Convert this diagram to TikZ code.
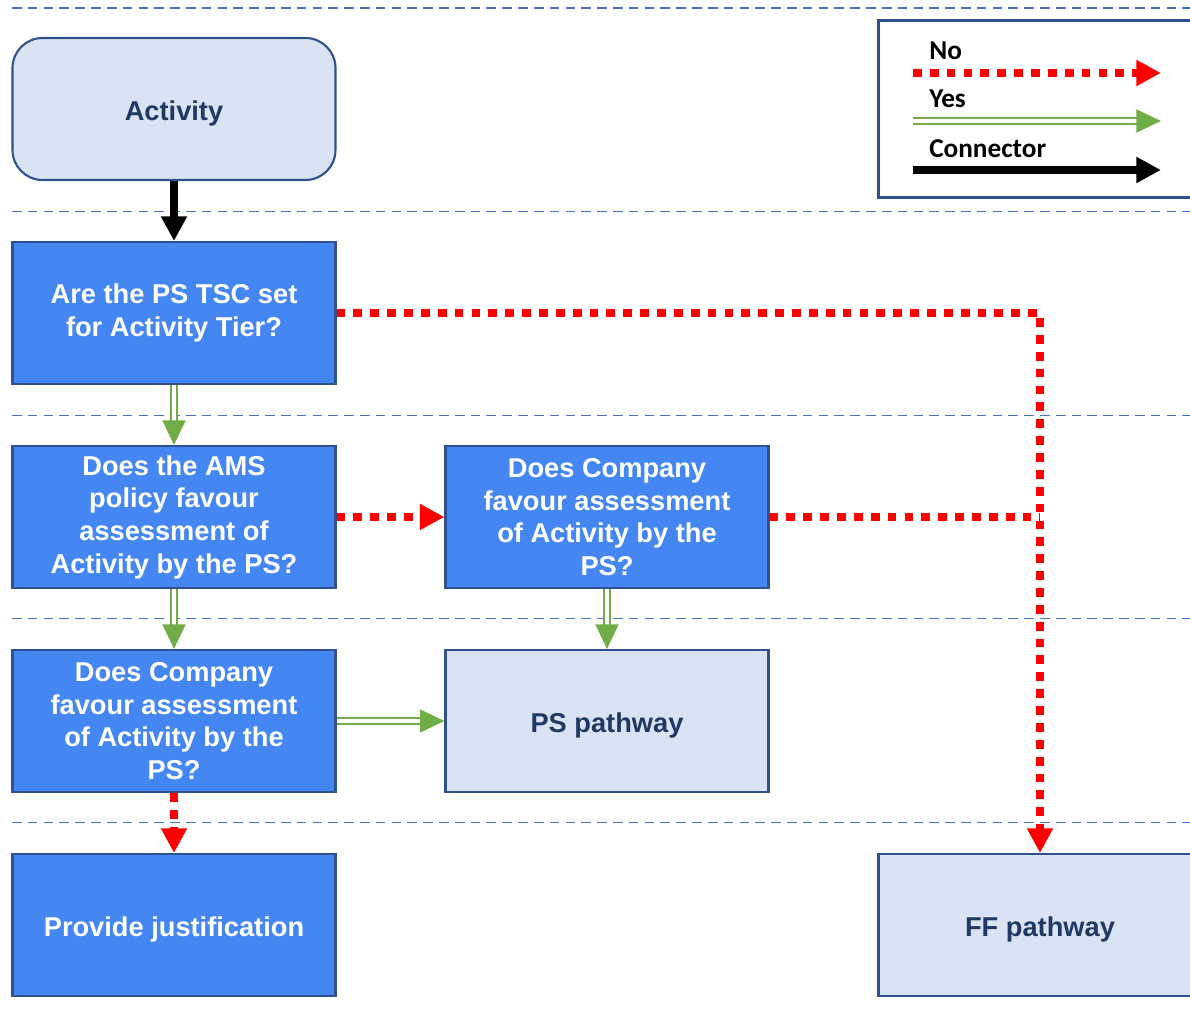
\documentclass[tikz,border=0pt]{standalone}
\usepackage{fontspec}
\setmainfont{Liberation Sans}
\newfontfamily\legendfont{Carlito}
\usetikzlibrary{positioning, arrows.meta}

\definecolor{boxblue}{RGB}{68,135,242}
\definecolor{paleblue}{RGB}{218,227,243}
\definecolor{edgeblue}{RGB}{47,82,143}
\definecolor{navytext}{RGB}{31,56,100}
\definecolor{sepblue}{RGB}{68,114,196}
\definecolor{nored}{RGB}{255,0,0}
\definecolor{yesgreen}{RGB}{112,173,71}

\tikzset{
  question/.style={draw=edgeblue, line width=1.2pt, fill=boxblue, text=white,
    minimum width=6.46cm, minimum height=2.84cm, align=center,
    font=\bfseries\fontsize{15.5}{18.6}\selectfont,
    execute at begin node={\rule{0pt}{16pt}}},
  pathway/.style={question, fill=paleblue, text=navytext},
  start/.style={pathway, rounded corners=0.6cm},
  legendbox/.style={draw=edgeblue, line width=1.2pt, fill=white,
    minimum width=6.46cm, minimum height=3.54cm},
  legendtext/.style={inner sep=0pt, anchor=base west,
    font=\legendfont\bfseries\fontsize{15.5}{18.5}\selectfont},
  no/.style={draw=nored, line width=5pt, dash pattern=on 5pt off 4.6pt,
    -{Triangle[length=14pt, width=14pt]}},
  yes/.style={draw=yesgreen, double=white, line width=1.4pt, double distance=1.8pt,
    -{Triangle[length=14pt, width=13pt]}},
  connector/.style={draw=black, line width=4.5pt,
    -{Triangle[length=14pt, width=14pt]}},
  sep/.style={draw=sepblue, line width=0.8pt, dash pattern=on 5.5pt off 3.5pt}
}

\begin{document}
\begin{tikzpicture}[node distance=4.08cm and 8.66cm, on grid]
    \useasboundingbox (0,0) rectangle (23.8,-20.42);
    \clip (0,0) rectangle (23.8,-20.42);

    % SEPARATORS
    \foreach \y in {-0.16,-4.23,-8.31,-12.37,-16.45}
        \draw[sep] (0.24,\y) -- (23.8,\y);

    % START
    \node[start] (act) at (3.48,-2.18) {Activity};

    % QUESTIONS
    \node[question] (tsc) [below=of act] {Are the PS TSC set\\for Activity Tier?};
    \node[question] (ams) [below=of tsc] {Does the AMS\\policy favour\\assessment of\\Activity by the PS?};
    \node[question] (comp) [right=of ams] {Does Company\\favour assessment\\of Activity by the\\PS?};
    \node[question] (comptwo) [below=of ams] {Does Company\\favour assessment\\of Activity by the\\PS?};

    % OUTCOMES
    \node[pathway] (ps) [right=of comptwo] {PS pathway};
    \node[question] (just) [below=of comptwo] {Provide justification};
    \node[pathway] (ff) [right=17.32cm of just] {FF pathway};

    % CONNECTOR
    \draw[connector] (act) -- (tsc);

    % YES
    \draw[yes] (tsc) -- (ams);
    \draw[yes] (ams) -- (comptwo);
    \draw[yes] (comp) -- (ps);
    \draw[yes] (comptwo) -- (ps);

    % NO
    \draw[no] (tsc) -| (ff);
    \draw[no] (ams) -- (comp);
    \draw[no, -] (comp) -- (comp -| ff);
    \draw[no] (comptwo) -- (just);

    % LEGEND
    \node[legendbox] (leg) [right=17.32cm of act] {};
    \node[legendtext] (notext) at ([xshift=1.03cm, yshift=0.98cm]leg.west) {No};
    \node[legendtext] (yestext) at ([xshift=1.03cm, yshift=0.02cm]leg.west) {Yes};
    \node[legendtext] (context) at ([xshift=1.03cm, yshift=-0.98cm]leg.west) {Connector};
    \coordinate (noa) at ([xshift=0.71cm, yshift=0.72cm]leg.west);
    \coordinate (nob) at ([xshift=5.67cm, yshift=0.72cm]leg.west);
    \coordinate (yesa) at ([xshift=0.71cm, yshift=-0.24cm]leg.west);
    \coordinate (yesb) at ([xshift=5.67cm, yshift=-0.24cm]leg.west);
    \coordinate (cona) at ([xshift=0.71cm, yshift=-1.22cm]leg.west);
    \coordinate (conb) at ([xshift=5.67cm, yshift=-1.22cm]leg.west);
    \draw[no] (noa) -- (nob);
    \draw[yes] (yesa) -- (yesb);
    \draw[connector] (cona) -- (conb);

\end{tikzpicture}
\end{document}
